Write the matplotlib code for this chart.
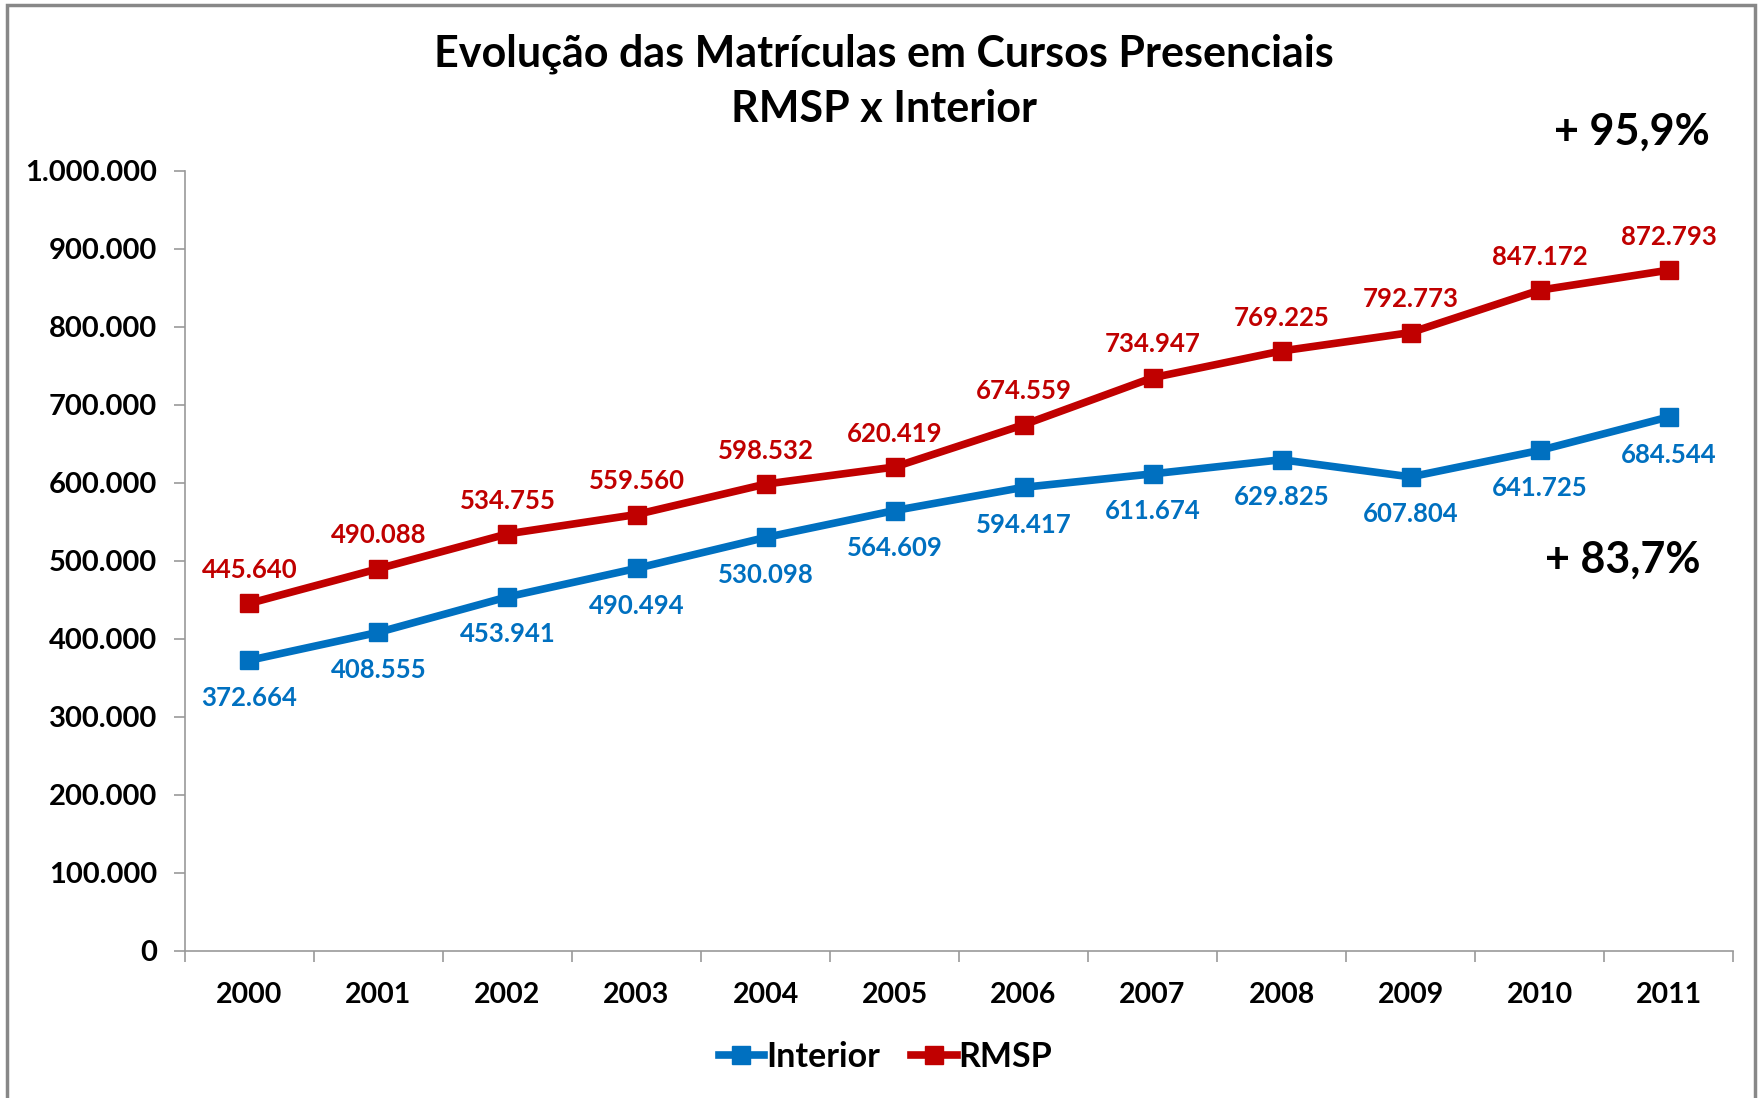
import matplotlib
matplotlib.use("Agg")
import matplotlib.pyplot as plt
from matplotlib.ticker import FuncFormatter, FixedLocator
from matplotlib.patches import Rectangle

plt.rcParams['font.family'] = ['Lato', 'DejaVu Sans']

years = ['2000', '2001', '2002', '2003', '2004', '2005', '2006', '2007', '2008', '2009', '2010', '2011']
interior = [372664, 408555, 453941, 490494, 530098, 564609, 594417, 611674, 629825, 607804, 641725, 684544]
rmsp = [445640, 490088, 534755, 559560, 598532, 620419, 674559, 734947, 769225, 792773, 847172, 872793]
yticks = [0, 100000, 200000, 300000, 400000, 500000, 600000, 700000, 800000, 900000, 1000000]
title = 'Evolução das Matrículas em Cursos Presenciais\nRMSP x Interior'
growth_rmsp = '+ 95,9%'
growth_interior = '+ 83,7%'

BLUE = '#0070C0'
RED = '#C00000'
DPI = 100
fig = plt.figure(figsize=(17.6, 10.98), dpi=DPI)
fig.patches.append(Rectangle((0.004, -0.01), 0.993, 1.005, transform=fig.transFigure,
                             fill=False, edgecolor='#888888', linewidth=2.5))

ax = fig.add_axes([0.1051, 0.1339, 0.8796, 0.7104])
x = list(range(len(years)))

def fmt(v):
    return f"{int(v):,}".replace(',', '.')

ax.plot(x, interior, color=BLUE, lw=5.5, marker='s', ms=13, label='Interior', solid_joinstyle='round')
ax.plot(x, rmsp, color=RED, lw=5.5, marker='s', ms=13, label='RMSP', solid_joinstyle='round')

for xi, v in zip(x, interior):
    ax.annotate(fmt(v), (xi, v), xytext=(0, -27), textcoords='offset points',
                ha='center', va='center', color=BLUE, fontsize=18.5, fontweight='bold')
for xi, v in zip(x, rmsp):
    ax.annotate(fmt(v), (xi, v), xytext=(0, 24), textcoords='offset points',
                ha='center', va='center', color=RED, fontsize=18.5, fontweight='bold')

ax.set_xlim(-0.5, len(years) - 0.5)
ax.set_ylim(0, 1000000)
ax.yaxis.set_major_locator(FixedLocator(yticks))
ax.yaxis.set_major_formatter(FuncFormatter(lambda v, p: fmt(v)))
ax.set_xticks(x)
ax.set_xticklabels(years)
ax.xaxis.set_minor_locator(FixedLocator([i - 0.5 for i in range(len(years) + 1)]))
ax.tick_params(axis='x', which='major', length=0, pad=22, labelsize=20.5)
ax.tick_params(axis='x', which='minor', length=8, color='#999999', width=1.2)
ax.tick_params(axis='y', length=8, color='#999999', width=1.2, labelsize=21, pad=12)
for lab in ax.get_xticklabels() + ax.get_yticklabels():
    lab.set_fontweight('bold')
for s in ['top', 'right']:
    ax.spines[s].set_visible(False)
for s in ['left', 'bottom']:
    ax.spines[s].set_color('#999999')
    ax.spines[s].set_linewidth(1.2)

fig.text(0.502, 0.926, title, ha='center', va='center', fontsize=31, fontweight='bold',
         linespacing=1.45)
fig.text(0.927, 0.880, growth_rmsp, ha='center', va='center', fontsize=31, fontweight='bold')
fig.text(0.922, 0.490, growth_interior, ha='center', va='center', fontsize=31, fontweight='bold')

fig.legend(loc='center', bbox_to_anchor=(0.503, 0.037), ncol=2, frameon=False,
           handlelength=1.35, handletextpad=0.05, columnspacing=0.9,
           prop={'weight': 'bold', 'size': 24.5})

fig.savefig('out.png', dpi=DPI)
